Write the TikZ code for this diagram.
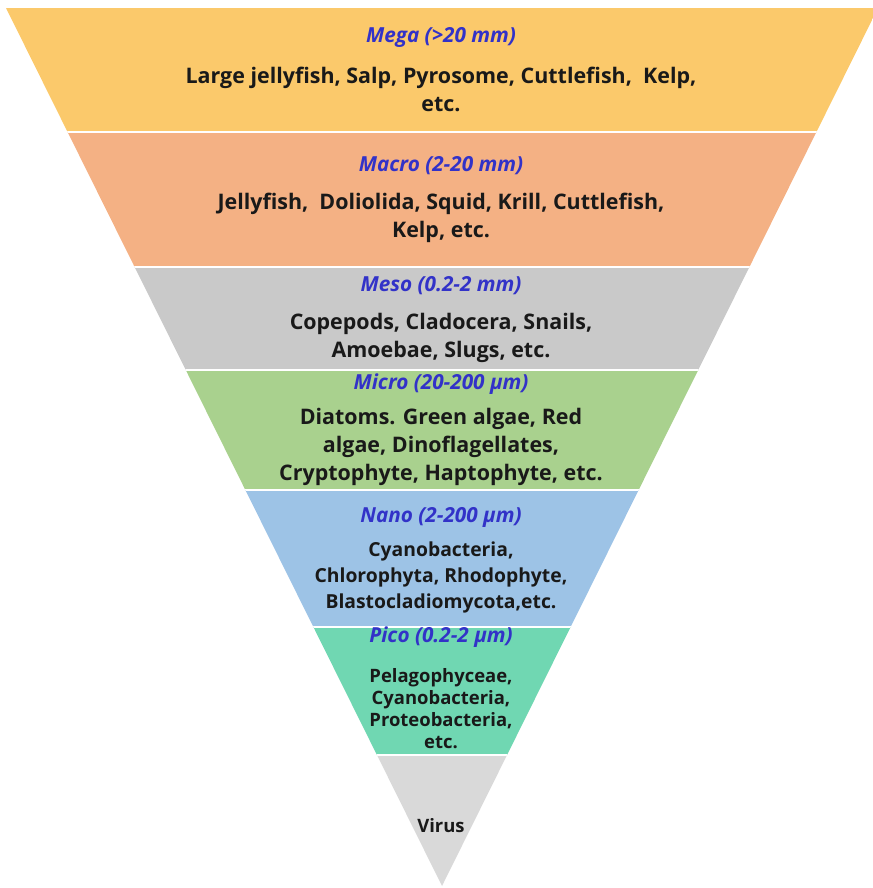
\documentclass[tikz,border=0pt]{standalone}
\usepackage{fontspec}
\setmainfont{Open Sans}
\usetikzlibrary{calc}

\definecolor{megacol}{RGB}{251,201,107}
\definecolor{macrocol}{RGB}{244,177,132}
\definecolor{mesocol}{RGB}{201,201,201}
\definecolor{microcol}{RGB}{169,209,142}
\definecolor{nanocol}{RGB}{157,195,230}
\definecolor{picocol}{RGB}{112,215,178}
\definecolor{viruscol}{RGB}{217,217,217}
\definecolor{sizeblue}{RGB}{50,50,200}

\tikzset{
  sizelabel/.style={text=sizeblue, font=\fontsize{11.8}{14}\selectfont\bfseries\itshape},
  taxa/.style={align=center, text=black!90, font=\fontsize{12.2}{15.9}\selectfont\bfseries},
  taxasmall/.style={taxa, font=\fontsize{11}{14.8}\selectfont\bfseries},
  taxatiny/.style={taxa, font=\fontsize{10.5}{12.5}\selectfont\bfseries},
  divider/.style={white, line width=1.6pt}
}

\begin{document}
\begin{tikzpicture}[x=0.02cm, y=-0.02cm]

\useasboundingbox (0, 0) rectangle (872, 888);

\begin{scope}
\clip (6, 8) -- (878, 8) -- (442, 886) -- cycle;
\fill[megacol] (0, 8) rectangle (880, 132);
\fill[macrocol] (0, 132) rectangle (880, 267);
\fill[mesocol] (0, 267) rectangle (880, 370);
\fill[microcol] (0, 370) rectangle (880, 490);
\fill[nanocol] (0, 490) rectangle (880, 627);
\fill[picocol] (0, 627) rectangle (880, 755);
\fill[viruscol] (0, 755) rectangle (880, 890);
\draw[divider] (0, 132) -- (880, 132);
\draw[divider] (0, 267) -- (880, 267);
\draw[divider] (0, 370) -- (880, 370);
\draw[divider] (0, 490) -- (880, 490);
\draw[divider] (0, 627) -- (880, 627);
\draw[divider] (0, 755) -- (880, 755);
\end{scope}

\node[sizelabel] (mega) at (441, 37) {Mega (>20 mm)};
\node[taxa] (megataxa) at (441, 89) {Large jellyfish, Salp, Pyrosome, Cuttlefish,~~Kelp,\\etc.};

\node[sizelabel] (macro) at (441, 166) {Macro (2-20 mm)};
\node[taxa] (macrotaxa) at (441, 218) {Jellyfish,~~Doliolida, Squid, Krill, Cuttlefish,\\Kelp, etc.};

\node[sizelabel] (meso) at (441, 286) {Meso (0.2-2 mm)};
\node[taxa] (mesotaxa) at (441, 338) {Copepods, Cladocera, Snails,\\Amoebae, Slugs, etc.};

\node[sizelabel] (micro) at (441, 384) {Micro (20-200 µm)};
\node[taxa] (microtaxa) at (441, 447) {Diatoms. Green algae, Red\\algae, Dinoflagellates,\\Cryptophyte, Haptophyte, etc.};

\node[sizelabel] (nano) at (441, 517) {Nano (2-200 µm)};
\node[taxasmall] (nanotaxa) at (441, 577) {Cyanobacteria,\\Chlorophyta, Rhodophyte,\\Blastocladiomycota,etc.};

\node[sizelabel] (pico) at (441, 637) {Pico (0.2-2 µm)};
\node[taxatiny] (picotaxa) at (441, 709) {Pelagophyceae,\\Cyanobacteria,\\Proteobacteria,\\etc.};

\node[taxatiny] (virus) at (441, 826) {Virus};

\end{tikzpicture}
\end{document}
